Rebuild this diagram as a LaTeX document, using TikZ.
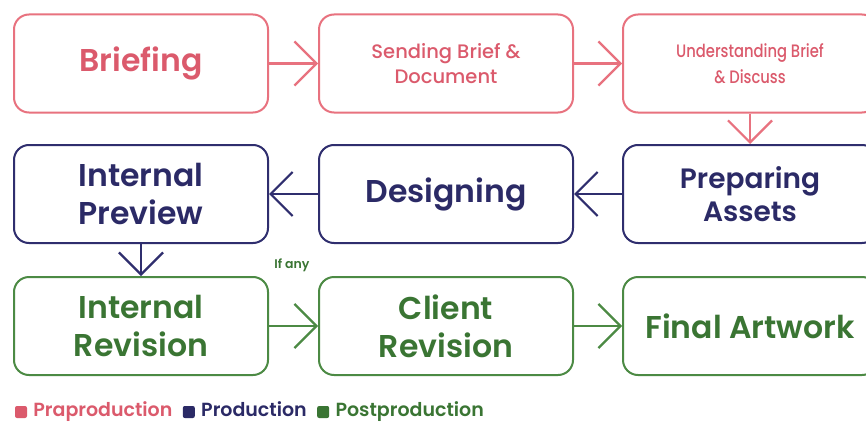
\documentclass[tikz,border=0pt]{standalone}
\usepackage{fontspec}
\setmainfont{Poppins}
\newfontfamily\semib{Poppins SemiBold}
\newfontfamily\medf{Poppins Medium}
\newfontfamily\narrowf{Poppins Medium}[FakeStretch=0.82]
\usetikzlibrary{arrows.meta,positioning}

\definecolor{preline}{HTML}{E8727F}
\definecolor{pretext}{HTML}{DB5A6C}
\definecolor{proline}{HTML}{2F2E6E}
\definecolor{protext}{HTML}{2B2A66}
\definecolor{postline}{HTML}{4C8A44}
\definecolor{posttext}{HTML}{3A7533}

\tikzset{
  stage/.style={draw, line width=2pt, rounded corners=15pt,
    minimum width=254pt, minimum height=98pt, inner sep=0pt,
    align=center, font=\semib\fontsize{31.5}{38}\selectfont},
  pre/.style={draw=preline, text=pretext},
  pro/.style={draw=proline, text=protext},
  post/.style={draw=postline, text=posttext},
  flow/.style={line width=2.2pt, -{Straight Barb[length=22pt,width=44pt,line width=2.2pt]}},
  legendbox/.style={rounded corners=2pt, minimum size=12pt, inner sep=0pt},
  legendtext/.style={font=\semib\fontsize{19}{22}\selectfont, inner sep=0pt,
    text height=13pt, text depth=4pt, anchor=west}
}

\begin{document}
\begin{tikzpicture}[x=1pt,y=-1pt]
  \useasboundingbox (0,0) rectangle (866,425);
  \fill[white] (0,0) rectangle (866,425);
  \clip (0,0) rectangle (866,425);

  % preproduction row
  \node[stage, pre] (brief) at (141,63.5) {Briefing};
  \node[stage, pre, font=\medf\fontsize{19.5}{25}\selectfont] (send) at (446,63.5) {Sending Brief \&\\Document};
  \node[stage, pre, font=\narrowf\fontsize{18}{26}\selectfont] (understand) at (750,63.5) {Understanding Brief\\\& Discuss};

  % production row
  \node[stage, pro] (preview) at (141,194) {Internal\\Preview};
  \node[stage, pro] (design) at (446,194) {Designing};
  \node[stage, pro, font=\semib\fontsize{28}{33}\selectfont] (assets) at (750,194) {Preparing\\Assets};

  % postproduction row
  \node[stage, post] (intrev) at (141,326) {Internal\\Revision};
  \node[stage, post] (clientrev) at (446,326) {Client\\Revision};
  \node[stage, post] (final) at (750,326) {Final Artwork};

  % connectors
  \draw[flow, preline] (brief) -- (send);
  \draw[flow, preline] (send) -- (understand);
  \draw[flow, preline] (understand) -- (assets);
  \draw[flow, proline] (assets) -- (design);
  \draw[flow, proline] (design) -- (preview);
  \draw[flow, proline] (preview) -- (intrev);
  \draw[flow, postline] (intrev) -- (clientrev);
  \draw[flow, postline] (clientrev) -- (final);

  \node[text=posttext, font=\semib\fontsize{12.5}{14}\selectfont, inner sep=0pt] (ifany) at (292,265) {If any};

  % legend
  \node[legendbox, fill=pretext] (lpre) at (21,412) {};
  \node[legendtext, text=pretext, right=6pt of lpre] (tpre) {Praproduction};
  \node[legendbox, fill=protext, right=10pt of tpre] (lpro) {};
  \node[legendtext, text=protext, right=6pt of lpro] (tpro) {Production};
  \node[legendbox, fill=posttext, right=10pt of tpro] (lpost) {};
  \node[legendtext, text=posttext, right=6pt of lpost] (tpost) {Postproduction};
\end{tikzpicture}
\end{document}
